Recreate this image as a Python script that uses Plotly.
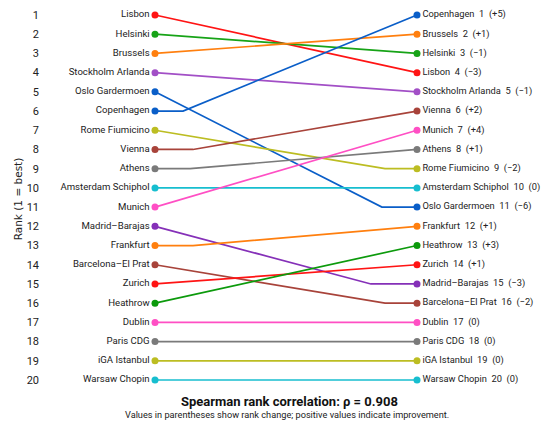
import plotly.graph_objects as go

# airports in the order of the left column (old rank 1..20)
airports = [
    "Lisbon", "Helsinki", "Brussels", "Stockholm Arlanda", "Oslo Gardermoen",
    "Copenhagen", "Rome Fiumicino", "Vienna", "Athens", "Amsterdam Schiphol",
    "Munich", "Madrid–Barajas", "Frankfurt", "Barcelona–El Prat", "Zurich",
    "Heathrow", "Dublin", "Paris CDG", "iGA Istanbul", "Warsaw Chopin",
]
rank_left = list(range(1, 21))
rank_right = [4, 3, 2, 5, 11, 1, 9, 6, 8, 10, 7, 15, 12, 16, 14, 13, 17, 18, 19, 20]

# where the connecting line bends (fraction of the way across), None = straight
bend_at = [None, None, None, None, 0.866, 0.107, 0.878, 0.145, 0.134, None,
           None, 0.824, 0.145, 0.878, None, None, None, None, None, None]

colors = [
    "#ff1414", "#17a317", "#ff7f0e", "#a24fc6", "#0a5ec8",
    "#0a5ec8", "#bcbd22", "#a8433a", "#7a7a7a", "#17becf",
    "#ff4fc4", "#8530b8", "#ff7f0e", "#a8433a", "#ff1414",
    "#0c9a0c", "#ff4fc4", "#7a7a7a", "#bcbd22", "#17becf",
]

rho = 0.908
font_family = "Roboto, sans-serif"
gap = "\u00a0\u00a0"


def signed(n):
    if n > 0:
        return f"+{n}"
    if n < 0:
        return f"\u2212{abs(n)}"
    return "0"


fig = go.Figure()

for name, a, b, bend, c in zip(airports, rank_left, rank_right, bend_at, colors):
    if bend is None:
        xs, ys = [0, 1], [a, b]
    else:
        mid = a if bend < 0.5 else b
        xs, ys = [0, bend, 1], [a, mid, b]
    fig.add_trace(go.Scatter(
        x=xs, y=ys, mode="lines", cliponaxis=False,
        line=dict(color=c, width=1.7),
        hoverinfo="skip", showlegend=False,
    ))
    change = a - b
    right_txt = f"{name}{gap}{b}{gap}({signed(change)})"
    fig.add_trace(go.Scatter(
        x=[0], y=[a], mode="markers+text", cliponaxis=False,
        marker=dict(color=c, size=7),
        text=[name], textposition="middle left",
        textfont=dict(size=9.6, color="#222"),
        showlegend=False, hoverinfo="skip",
    ))
    fig.add_trace(go.Scatter(
        x=[1], y=[b], mode="markers+text", cliponaxis=False,
        marker=dict(color=c, size=7),
        text=[right_txt], textposition="middle right",
        textfont=dict(size=9.3, color="#222"),
        showlegend=False, hoverinfo="skip",
    ))

fig.add_annotation(
    text=f"<b>Spearman rank correlation: \u03c1 = {rho:.3f}</b>",
    xref="paper", yref="paper", x=0.49, y=-0.0288,
    xanchor="center", yanchor="middle", showarrow=False,
    font=dict(size=13, color="#111"),
)
fig.add_annotation(
    text="Values in parentheses show rank change; positive values indicate improvement.",
    xref="paper", yref="paper", x=0.484, y=-0.0654,
    xanchor="center", yanchor="middle", showarrow=False,
    font=dict(size=9.2, color="#222"),
)

# the page body adds an 8px offset, so the figure itself is drawn 8px smaller
fig.update_layout(
    width=542, height=416,
    margin=dict(l=32, r=0, t=0, b=34),
    paper_bgcolor="white", plot_bgcolor="white",
    font=dict(family=font_family, color="#222"),
)
fig.update_xaxes(range=[-0.4389, 1.5076], visible=False)
fig.update_yaxes(
    range=[20.52, 0.636], tickvals=rank_left, automargin=False,
    showgrid=False, zeroline=False, showline=False,
    tickfont=dict(size=11, color="#222"),
    title=dict(text="Rank (1 = best)", standoff=1,
               font=dict(size=10.5, family="DejaVu Sans")),
)

fig.write_html("out.html")
